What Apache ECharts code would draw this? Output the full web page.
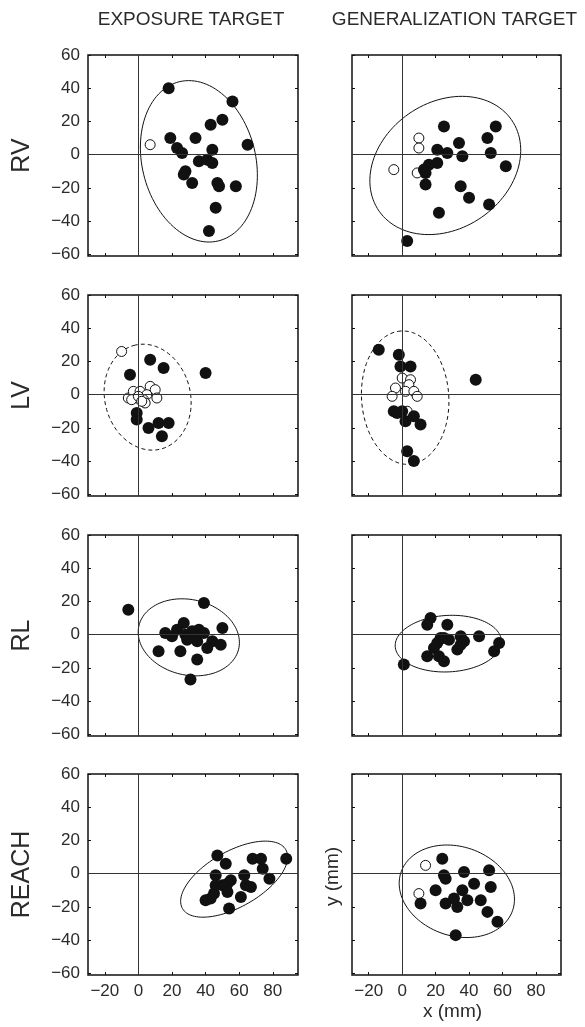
<!DOCTYPE html>
<html>
<head>
<meta charset="utf-8">
<script src="https://cdn.jsdelivr.net/npm/echarts@6/dist/echarts.min.js"></script>
<style>
html,body{margin:0;padding:0;background:#fff;}
#main{width:585px;height:1027px;}
</style>
</head>
<body>
<div id="main"></div>
<script>
// ---------- data ----------
const columnTitles = ['EXPOSURE TARGET', 'GENERALIZATION TARGET'];
const rowLabels = ['RV', 'LV', 'RL', 'REACH'];
const xTicks = [-20, 0, 20, 40, 60, 80];
const yTicks = [-60, -40, -20, 0, 20, 40, 60];
const xTitle = 'x (mm)';
const yTitle = 'y (mm)';

// RV
const rvExpFilled = [[18,40],[56,32],[50,21],[43,18],[19,10],[34,10],[65,6],[23,4],[26,1],[44,3],[36,-4],[41,-3],[44,-5],[28,-10],[27,-12],[32,-17],[47,-17],[48,-19],[58,-19],[46,-32],[42,-46]];
const rvExpOpen = [[7,6]];
const rvExpEllipse = [36,-4,49.3,33.8,103.5]; // cx, cy, semi-major, semi-minor, angle(deg)
const rvGenFilled = [[25,17],[56,17],[51,10],[34,7],[21,3],[27,1],[36,-1],[53,1],[62,-7],[21,-5],[16,-6],[13,-9],[14,-11],[14,-18],[35,-19],[40,-26],[52,-30],[22,-35],[3,-52]];
const rvGenOpen = [[10,10],[10,4],[-5,-9],[9,-11]];
const rvGenEllipse = [25.8,-6.5,48.2,38,34.9];
// LV
const lvExpFilled = [[7,21],[15,16],[40,13],[-5,12],[-1,-11],[-1,-15],[6,-20],[12,-17],[18,-17],[14,-25]];
const lvExpOpen = [[-10,26],[7,5],[10,3],[11,-2],[-6,-2],[-3,2],[1,2],[5,0],[-1,-2],[3,-3],[4,-5],[-4,-3],[0,-1],[2,-4]];
const lvExpEllipse = [5.5,-1.5,32.2,25.5,103.2];
const lvGenFilled = [[-14,27],[-2,24],[-1,17],[5,17],[44,9],[-5,-10],[-3,-11],[0,-10],[7,-13],[2,-16],[11,-18],[3,-34],[7,-40]];
const lvGenOpen = [[0,10],[5,9],[4,6],[-4,4],[2,2],[7,2],[-6,-1],[9,-1],[3,-10]];
const lvGenEllipse = [1.8,-1.8,40.2,26.1,93.5];
// RL
const rlExpFilled = [[-6,15],[39,19],[27,7],[16,1],[20,-1],[23,3],[28,0],[29,-3],[32,2],[36,3],[35,-4],[39,1],[33,-1],[50,4],[44,-4],[41,-8],[49,-6],[12,-10],[25,-10],[35,-15],[31,-27],[30,-2],[34,0]];
const rlExpOpen = [];
const rlExpEllipse = [30,-1.6,30.5,22.7,-13.5];
const rlGenFilled = [[17,10],[15,6],[27,6],[1,-18],[15,-13],[22,-13],[25,-16],[21,-5],[23,-2],[28,-3],[35,-1],[37,-4],[33,-9],[35,-6],[46,-1],[58,-5],[55,-10],[19,-8],[25,-2]];
const rlGenOpen = [];
const rlGenEllipse = [27.6,-5.4,31.8,17,3];
// REACH
const reachExpFilled = [[47,11],[52,6],[68,9],[73,9],[88,9],[74,3],[46,-1],[63,-1],[78,-3],[55,-4],[53,-6],[46,-7],[50,-7],[64,-7],[67,-8],[53,-11],[45,-12],[61,-14],[43,-15],[40,-16],[54,-21]];
const reachExpOpen = [];
const reachExpEllipse = [57,-3.3,35.5,16.7,30];
const reachGenFilled = [[24,9],[25,-1],[26,-3],[37,1],[52,2],[43,-6],[53,-8],[20,-10],[36,-10],[31,-15],[39,-16],[26,-18],[33,-20],[47,-16],[51,-23],[57,-29],[11,-18],[32,-37]];
const reachGenOpen = [[14,5],[10,-12]];
const reachGenEllipse = [32.7,-10.6,35.3,26.8,-19.3];

const panels = [
  [{f: rvExpFilled, o: rvExpOpen, e: rvExpEllipse, dash: false}, {f: rvGenFilled, o: rvGenOpen, e: rvGenEllipse, dash: false}],
  [{f: lvExpFilled, o: lvExpOpen, e: lvExpEllipse, dash: true}, {f: lvGenFilled, o: lvGenOpen, e: lvGenEllipse, dash: true}],
  [{f: rlExpFilled, o: rlExpOpen, e: rlExpEllipse, dash: false}, {f: rlGenFilled, o: rlGenOpen, e: rlGenEllipse, dash: false}],
  [{f: reachExpFilled, o: reachExpOpen, e: reachExpEllipse, dash: false}, {f: reachGenFilled, o: reachGenOpen, e: reachGenEllipse, dash: false}]
];

// ---------- layout ----------
const FONT = '"Liberation Sans", Arial, Helvetica, sans-serif';
const TXT = '#2b2b2b';
const colLeft = [88, 352];
const colWidth = [210, 209];
const rowTop = [55, 295, 535, 774];
const panelH = 201;
const X_MIN = -30, X_MAX = 95, Y_MIN = -61, Y_MAX = 60;

const fmt = v => String(v).replace('-', '\u2212');

const grids = [], xAxes = [], yAxes = [], series = [];
let gi = 0;
for (let r = 0; r < 4; r++) {
  for (let c = 0; c < 2; c++) {
    grids.push({left: colLeft[c], top: rowTop[r], width: colWidth[c], height: panelH,
      show: true, borderColor: '#111', borderWidth: 1.5, backgroundColor: 'transparent'});
    const tickCommon = {show: true, inside: true, length: 3, lineStyle: {color: '#111', width: 1}};
    ['bottom', 'top'].forEach(pos => {
      xAxes.push({gridIndex: gi, type: 'value', position: pos, min: X_MIN, max: X_MAX,
        axisLine: {show: false, onZero: false}, splitLine: {show: false},
        axisTick: Object.assign({customValues: xTicks}, tickCommon),
        axisLabel: {show: pos === 'bottom' && r === 3, customValues: xTicks, formatter: fmt,
          color: TXT, fontSize: 17, fontFamily: FONT, margin: 8}});
    });
    ['left', 'right'].forEach(pos => {
      yAxes.push({gridIndex: gi, type: 'value', position: pos, min: Y_MIN, max: Y_MAX,
        axisLine: {show: false, onZero: false}, splitLine: {show: false},
        axisTick: Object.assign({customValues: yTicks}, tickCommon),
        axisLabel: {show: pos === 'left' && c === 0, customValues: yTicks, formatter: fmt,
          color: TXT, fontSize: 17, fontFamily: FONT, margin: 8}});
    });
    const p = panels[r][c];
    const ax = {xAxisIndex: gi * 2, yAxisIndex: gi * 2};
    // crosshair
    series.push(Object.assign({type: 'scatter', data: [], z: 1, silent: true,
      markLine: {silent: true, symbol: ['none', 'none'], animation: false, label: {show: false},
        lineStyle: {color: '#333', width: 1, type: 'solid'},
        data: [{xAxis: 0}, {yAxis: 0}]}}, ax));
    // ellipse
    series.push(Object.assign({type: 'custom', z: 2, silent: true, data: [p.e],
      encode: {x: 0, y: 1},
      renderItem: (params, api) => {
        const cx = api.value(0), cy = api.value(1), a = api.value(2), b = api.value(3);
        const phi = api.value(4) * Math.PI / 180;
        const pts = [];
        for (let k = 0; k < 120; k++) {
          const t = k / 120 * 2 * Math.PI;
          const ex = a * Math.cos(t), ey = b * Math.sin(t);
          pts.push(api.coord([cx + ex * Math.cos(phi) - ey * Math.sin(phi), cy + ex * Math.sin(phi) + ey * Math.cos(phi)]));
        }
        return {type: 'polygon', shape: {points: pts},
          style: {fill: 'none', stroke: '#111', lineWidth: 1, lineDash: p.dash ? [4, 3] : null}};
      }}, ax));
    // open circles
    series.push(Object.assign({type: 'scatter', z: 3, data: p.o, symbol: 'circle', symbolSize: 10,
      itemStyle: {color: '#fff', borderColor: '#111', borderWidth: 1, opacity: 1}}, ax));
    // filled circles
    series.push(Object.assign({type: 'scatter', z: 4, data: p.f, symbol: 'circle', symbolSize: 12,
      itemStyle: {color: '#111', opacity: 1}}, ax));
    gi++;
  }
}

const graphics = [];
columnTitles.forEach((t, c) => {
  graphics.push({type: 'text', x: colLeft[c] + colWidth[c] / 2 - 2, y: 20,
    style: {text: t, fill: TXT, font: '19px ' + FONT, textAlign: 'center', textVerticalAlign: 'middle'}});
});
rowLabels.forEach((t, r) => {
  graphics.push({type: 'text', x: 22, y: rowTop[r] + panelH / 2, rotation: Math.PI / 2,
    style: {text: t, fill: TXT, font: '25px ' + FONT, textAlign: 'center', textVerticalAlign: 'middle'}});
});
graphics.push({type: 'text', x: colLeft[1] + colWidth[1] / 2 - 4, y: 1012,
  style: {text: xTitle, fill: TXT, font: '19px ' + FONT, textAlign: 'center', textVerticalAlign: 'middle'}});
graphics.push({type: 'text', x: 333, y: rowTop[3] + panelH / 2 + 2, rotation: Math.PI / 2,
  style: {text: yTitle, fill: TXT, font: '19px ' + FONT, textAlign: 'center', textVerticalAlign: 'middle'}});

const chart = echarts.init(document.getElementById('main'), null, {renderer: 'canvas'});
chart.setOption({
  animation: false,
  backgroundColor: '#fff',
  grid: grids,
  xAxis: xAxes,
  yAxis: yAxes,
  series: series,
  graphic: graphics
});
</script>
</body>
</html>
